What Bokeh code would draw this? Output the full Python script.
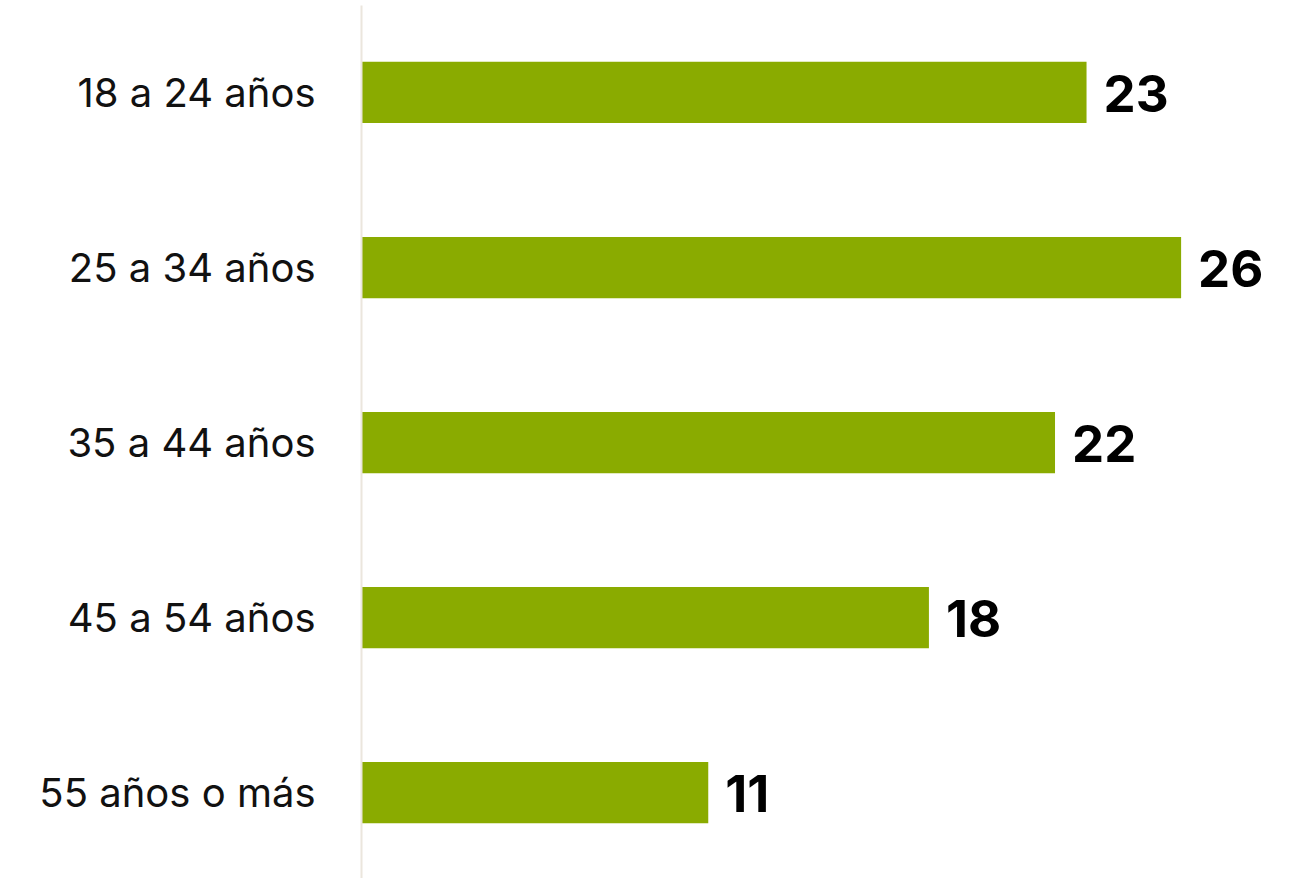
from bokeh.plotting import figure
from bokeh.models import Range1d, FixedTicker, ColumnDataSource
from bokeh.core.properties import value
from bokeh.embed import file_html
from bokeh.resources import INLINE

categories = ["18 a 24 años", "25 a 34 años", "35 a 44 años", "45 a 54 años", "55 años o más"]
values = [23, 26, 22, 18, 11]
labels = [str(v) for v in values]

positions = list(range(len(categories)))
source = ColumnDataSource(dict(y=positions, v=values, lab=labels))

p = figure(width=1290, height=878, output_backend="svg", toolbar_location=None,
           x_range=Range1d(0, 29.47), y_range=Range1d(4.491, -0.497),
           min_border_left=361, min_border_right=0, min_border_top=5, min_border_bottom=0)

p.hbar(y="y", right="v", left=0, height=0.35, source=source, color="#8aab00", line_color=None)
p.text(x="v", y="y", text="lab", source=source, x_offset=17, y_offset=1,
       text_baseline="middle", text_align="left", text_font=value("Inter"),
       text_font_style="bold", text_font_size="51px", text_color="#000000")

p.xaxis.visible = False
p.xgrid.visible = False
p.ygrid.visible = False
p.outline_line_color = None

ya = p.yaxis[0]
ya.ticker = FixedTicker(ticks=positions)
ya.major_label_overrides = {i: c for i, c in enumerate(categories)}
ya.major_tick_line_color = None
ya.minor_tick_line_color = None
ya.axis_line_color = "#ebe6dd"
ya.axis_line_width = 2
ya.major_label_standoff = 40
ya.major_label_text_font = "Inter"
ya.major_label_text_font_size = "40px"
ya.major_label_text_color = "#111111"

open("out.html", "w").write(file_html(p, INLINE))
